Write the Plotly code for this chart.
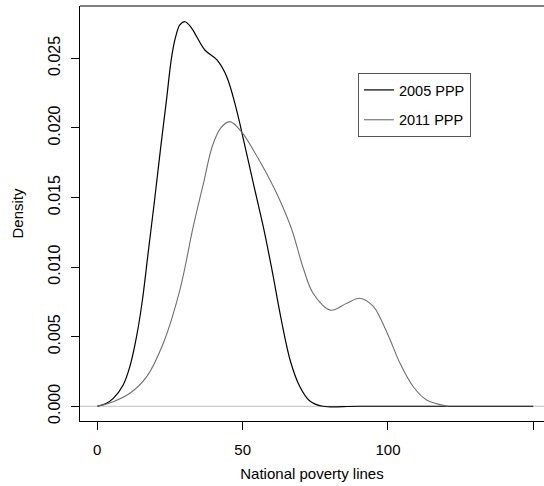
import plotly.graph_objects as go

# 2005 PPP density
x_2005 = [0, 3.0, 5.5, 8.9, 11.2, 13.5, 15.5, 17.6, 19.7, 21.7, 23.8, 25.5, 26.9, 28.4, 30.2,
          32.5, 34.2, 37.0, 41.1, 44.5, 47.9, 49.7, 53.7, 57.1, 60.0, 63.5, 66.5, 69.7, 73.0,
          77.6, 90, 150]
y_2005 = [0, 0.0002, 0.00057, 0.00153, 0.00285, 0.0050, 0.0076, 0.0112, 0.0148, 0.0184, 0.0220,
          0.0250, 0.0265, 0.0274, 0.02763, 0.02716, 0.02655, 0.0256, 0.0249, 0.0237, 0.0213,
          0.0197, 0.0160, 0.0129, 0.0099, 0.0060, 0.0032, 0.0014, 0.0004, 0, 0, 0]

# 2011 PPP density
x_2011 = [0, 5.5, 11.2, 17.0, 22.7, 28.4, 33.0, 36.5, 39.6, 42.5, 45.6, 49.7, 53.7, 58.3,
          62.8, 66.9, 70.9, 74.3, 80.3, 85.8, 90.3, 94.9, 97.2, 100.7, 104.1, 108.7, 113.3, 120.7]
y_2011 = [0, 0.00033, 0.00093, 0.00213, 0.00453, 0.00835, 0.0129, 0.0160, 0.0187, 0.0200,
          0.02045, 0.0197, 0.0184, 0.0167, 0.0148, 0.0127, 0.0099, 0.0081, 0.0069, 0.0074,
          0.00776, 0.0072, 0.0064, 0.0048, 0.0031, 0.0014, 0.00045, 0]

x_ticks = [0, 50, 100, 150]
y_ticks = [0, 0.005, 0.010, 0.015, 0.020, 0.025]
y_tick_text = ["0.000", "0.005", "0.010", "0.015", "0.020", "0.025"]

FONT = "Liberation Sans, Arial, Helvetica, sans-serif"

fig = go.Figure()
fig.add_trace(go.Scatter(x=x_2005, y=y_2005, mode="lines", name="2005 PPP",
                         legendgroup="a",
                         line=dict(color="#000000", width=1.2, shape="spline", smoothing=1)))
fig.add_trace(go.Scatter(x=x_2011, y=y_2011, mode="lines", name="2011 PPP",
                         legendgroup="b",
                         line=dict(color="#707070", width=1.1, shape="spline", smoothing=1)))

# zero line (gray) across the plot
fig.add_shape(type="line", xref="paper", yref="y", x0=0, x1=1, y0=0, y1=0,
              line=dict(color="#BEBEBE", width=1), layer="below")
# top border of box (right side clipped off the page)
fig.add_shape(type="line", xref="paper", yref="paper", x0=0, x1=1.05, y0=1, y1=1,
              line=dict(color="#000000", width=1))

fig.update_layout(
    width=544, height=486,
    margin=dict(l=80, r=0, t=6, b=65),
    paper_bgcolor="white", plot_bgcolor="white",
    font=dict(family=FONT, size=15, color="#000000"),
    showlegend=True,
    legend=dict(x=0.599, y=0.8386, xanchor="left", yanchor="top",
                bordercolor="#555555", borderwidth=1, bgcolor="white",
                font=dict(size=14.5), tracegroupgap=8),
    xaxis=dict(range=[-5.95, 153.68], tickvals=x_ticks, ticks="outside", ticklen=8,
               tickcolor="#000000", showline=True, linecolor="#000000", linewidth=1,
               showgrid=False, zeroline=False, ticklabelstandoff=7,
               tickfont=dict(size=15),
               title=dict(text="National poverty lines", standoff=11, font=dict(size=15))),
    yaxis=dict(range=[-0.00106, 0.02876], tickvals=y_ticks, ticktext=y_tick_text,
               tickangle=-90, ticks="outside", ticklen=8, tickcolor="#000000",
               showline=True, linecolor="#000000", linewidth=1,
               showgrid=False, zeroline=False, ticklabelstandoff=5,
               tickfont=dict(size=16),
               title=dict(text="Density", standoff=18, font=dict(size=15))),
)

fig.write_html("out.html")
